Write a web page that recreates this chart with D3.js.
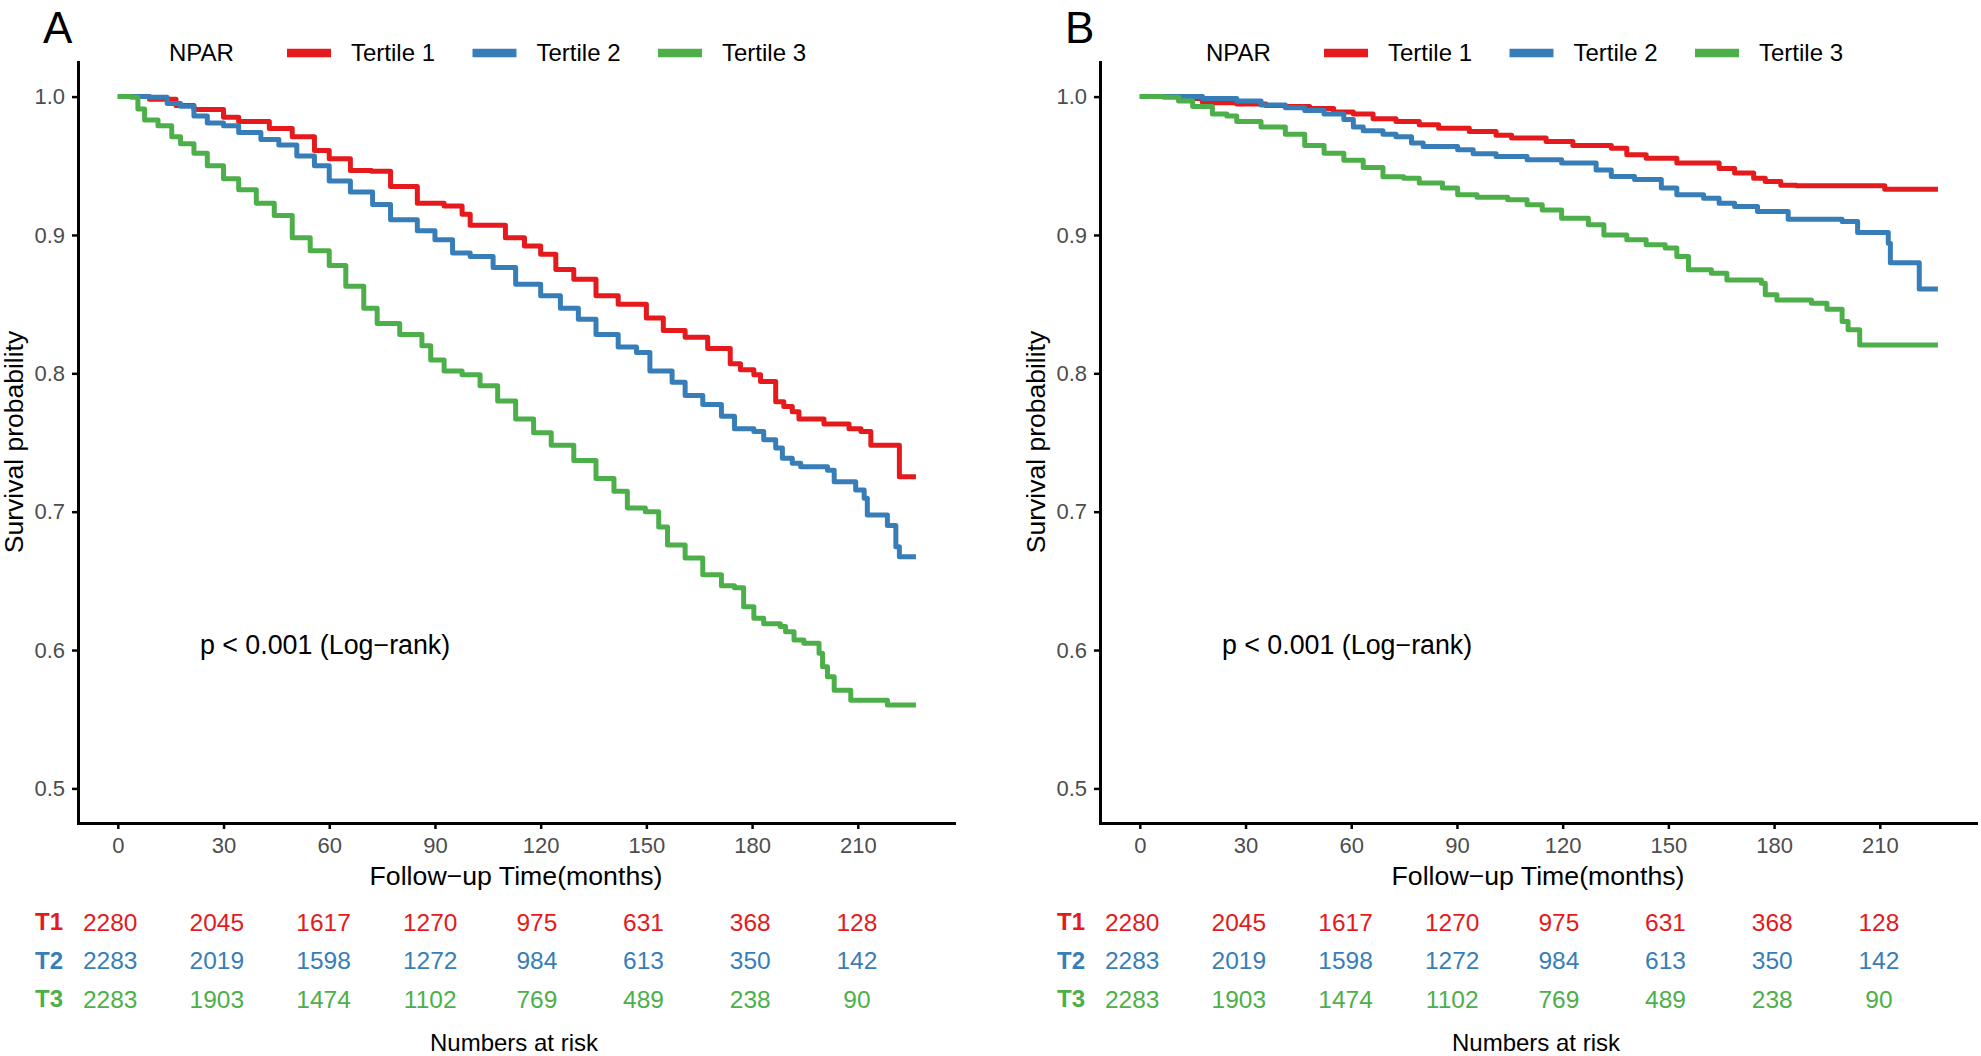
<!DOCTYPE html>
<html>
<head>
<meta charset="utf-8">
<script src="https://cdn.jsdelivr.net/npm/d3@7"></script>
<style>
body { margin: 0; background: #fff; }
svg { display: block; }
text { font-family: "Liberation Sans", Arial, Helvetica, sans-serif; }
</style>
</head>
<body>
<div id="canvas"></div>
<script>
// risk table
const times = [0, 30, 60, 90, 120, 150, 180, 210];
const strata = ['T1', 'T2', 'T3'];
const riskT1 = [2280, 2045, 1617, 1270, 975, 631, 368, 128];
const riskT2 = [2283, 2019, 1598, 1272, 984, 613, 350, 142];
const riskT3 = [2283, 1903, 1474, 1102, 769, 489, 238, 90];

const legendTitle = 'NPAR';
const legendLabels = ['Tertile 1', 'Tertile 2', 'Tertile 3'];
const colors = ['#E41A1C', '#377EB8', '#4DAF4A'];
const yTicks = [0.5, 0.6, 0.7, 0.8, 0.9, 1.0];

// KM curves: [months, survival]
const aT1 = [[0,1.0],[9,0.998],[16.5,0.9936],[21.6,0.9906],[30,0.985],[34.3,0.982],[43,0.977],[49.5,0.971],[55.8,0.961],[60,0.955],[66,0.9465],[72,0.946],[77.4,0.935],[85,0.923],[92.6,0.921],[97.7,0.915],[100,0.907],[110,0.898],[115.4,0.892],[120,0.886],[124.3,0.875],[129.4,0.868],[135.7,0.856],[142,0.850],[150,0.840],[154.8,0.831],[161,0.826],[167.4,0.818],[173.8,0.807],[176.7,0.8025],[180.5,0.799],[182.4,0.794],[186.7,0.7795],[189,0.776],[191.4,0.7723],[193.3,0.767],[200.4,0.7634],[207.5,0.760],[210.9,0.758],[213.7,0.748],[221.8,0.7253],[226.5,0.7253]];
const aT2 = [[0,1.0],[9,0.9995],[14,0.995],[17.8,0.993],[21.6,0.986],[25.4,0.981],[30,0.979],[34.3,0.974],[40.6,0.969],[45.7,0.965],[50.8,0.957],[55.8,0.950],[60,0.939],[66,0.931],[72.3,0.922],[77.4,0.911],[85,0.903],[90,0.8965],[95,0.887],[100,0.8845],[106.5,0.8765],[112.9,0.8644],[120,0.856],[125.6,0.847],[130.7,0.839],[135.7,0.828],[142,0.819],[147.2,0.815],[151,0.8016],[157.3,0.7936],[161,0.784],[166,0.7775],[171.3,0.769],[175,0.760],[180.5,0.758],[183.3,0.752],[186.7,0.746],[188.6,0.7386],[191.4,0.735],[193.8,0.7325],[201.4,0.730],[203.3,0.7217],[209.4,0.7157],[211.8,0.7097],[212.7,0.6976],[218.4,0.690],[220.8,0.6747],[221.8,0.6675],[226.5,0.6675]];
const aT3 = [[0,1.0],[3.8,0.9995],[5.7,0.991],[7.6,0.983],[11.4,0.979],[15.3,0.971],[17.8,0.966],[21.6,0.959],[25.4,0.950],[30,0.9406],[34.3,0.9326],[39.3,0.923],[44.4,0.914],[49.5,0.898],[54.6,0.8885],[60,0.878],[64.7,0.863],[69.8,0.847],[73.6,0.836],[80,0.828],[86.3,0.820],[88.8,0.8096],[92.6,0.8016],[97.7,0.799],[102.8,0.791],[107.8,0.780],[112.9,0.767],[118,0.757],[123,0.748],[129.4,0.737],[135.7,0.724],[140.8,0.7147],[144.6,0.7027],[149.7,0.700],[153.5,0.689],[156,0.676],[161,0.6666],[166,0.6545],[171.3,0.6465],[175,0.645],[177.6,0.6313],[180.5,0.623],[183.3,0.619],[188,0.617],[189.5,0.6132],[191.9,0.6072],[194.7,0.605],[199,0.5976],[200,0.588],[201.4,0.5807],[203.3,0.571],[208,0.5638],[218.4,0.5602],[226.5,0.5602]];

const bT1 = [[0,1.0],[11,0.9987],[17.8,0.9955],[27.5,0.9947],[35.8,0.9936],[41.3,0.9928],[48.2,0.9914],[55,0.9888],[60.6,0.9874],[66.2,0.984],[72.7,0.982],[79.3,0.9796],[84.8,0.9772],[93.5,0.9748],[101.1,0.972],[105.5,0.970],[115.3,0.9675],[122.9,0.9646],[133.8,0.9627],[138.2,0.958],[143.7,0.9555],[152.4,0.952],[164.4,0.948],[168.8,0.9447],[174.2,0.941],[177.5,0.9386],[181.9,0.936],[186.3,0.9355],[211.4,0.933],[226.5,0.933]];
const bT2 = [[0,1.0],[17.8,0.9987],[27.5,0.9968],[34.4,0.994],[41.3,0.992],[46.8,0.990],[52.3,0.9874],[57.9,0.9834],[60.6,0.978],[63.4,0.9754],[69,0.9727],[72.7,0.971],[77.1,0.9664],[80.4,0.964],[90.2,0.9615],[94.6,0.9586],[101.1,0.9567],[109.9,0.9543],[119.7,0.952],[129.5,0.947],[133.8,0.9422],[140.4,0.940],[148,0.934],[152.4,0.929],[160,0.9266],[164.4,0.923],[168.8,0.9205],[175.3,0.917],[184,0.9114],[199.3,0.9097],[203.7,0.9017],[212.4,0.894],[213,0.880],[221.2,0.861],[226.5,0.861]];
const bT3 = [[0,1.0],[6.8,0.9995],[11,0.9968],[15,0.9928],[20.6,0.9874],[24.7,0.986],[27.5,0.982],[34.4,0.978],[41.3,0.9727],[46.8,0.9647],[52.3,0.959],[57.9,0.954],[63.4,0.9487],[69,0.942],[74.9,0.941],[79.3,0.9375],[85.9,0.934],[90.2,0.929],[95.7,0.9273],[104.4,0.9254],[109.9,0.9218],[114.2,0.9181],[119.7,0.9121],[127.3,0.9073],[131.7,0.900],[138.2,0.8965],[143.7,0.893],[149.1,0.8905],[152.4,0.8844],[155.7,0.8748],[162.2,0.8724],[166.6,0.8675],[176.4,0.8651],[177.5,0.8567],[180.8,0.853],[190.6,0.8507],[195,0.8463],[199.3,0.8374],[201,0.8314],[204.3,0.8205],[226.5,0.8205]];

const W = 1981, H = 1056;
const svg = d3.select('#canvas').append('svg')
    .attr('width', W)
    .attr('height', H);

const panels = [
    { letter: 'A', dx: 0, legendX: 169, curves: [aT1, aT2, aT3] },
    { letter: 'B', dx: 1022, legendX: 1206, curves: [bT1, bT2, bT3] }
];
const risk = [riskT1, riskT2, riskT3];

// ggplot-style 5% expansion of [0, 226] and [0.5, 1]
const x = d3.scaleLinear().domain([-11.3, 237.3]).range([78, 954]);
const xr = d3.scaleLinear().domain([-11.3, 237.3]).range([70, 954]);
const y = d3.scaleLinear().domain([0.475, 1.025]).range([823, 62]);
const rowY = d3.scalePoint().domain(strata).range([922, 999]);

const line = d3.line()
    .x(d => x(d[0]))
    .y(d => y(d[1]))
    .curve(d3.curveStepAfter);

panels.forEach(p => {
    const g = svg.append('g').attr('transform', `translate(${p.dx},0)`);

    g.append('text')
        .attr('x', 43).attr('y', 43)
        .attr('font-size', 44)
        .text(p.letter);

    // legend
    const lg = svg.append('g').attr('transform', `translate(${p.legendX},53)`);
    lg.append('text')
        .attr('x', 0).attr('dy', '0.35em')
        .attr('font-size', 24)
        .text(legendTitle);
    legendLabels.forEach((l, i) => {
        const kx = 118 + i * 185.5;
        lg.append('line')
            .attr('x1', kx).attr('x2', kx + 44)
            .attr('y1', 0).attr('y2', 0)
            .attr('stroke', colors[i])
            .attr('stroke-width', 8.5);
        lg.append('text')
            .attr('x', kx + 64).attr('dy', '0.35em')
            .attr('font-size', 24)
            .text(l);
    });

    // curves
    p.curves.forEach((c, i) => {
        g.append('path')
            .datum(c)
            .attr('d', line)
            .attr('fill', 'none')
            .attr('stroke', colors[i])
            .attr('stroke-width', 5)
            .attr('stroke-linejoin', 'round');
    });

    // axes
    const xAxis = g.append('g')
        .attr('transform', 'translate(0,823)')
        .call(d3.axisBottom(x).tickValues(times).tickSize(6).tickSizeOuter(0).tickPadding(8));
    const yAxis = g.append('g')
        .attr('transform', 'translate(78,0)')
        .call(d3.axisLeft(y).tickValues(yTicks).tickFormat(d3.format('.1f')).tickSize(6).tickSizeOuter(0).tickPadding(7));
    [xAxis, yAxis].forEach(a => {
        a.attr('font-family', null);
        a.select('.domain').attr('stroke', '#000').attr('stroke-width', 3).attr('stroke-linecap', 'square');
        a.selectAll('.tick line').attr('stroke', '#000').attr('stroke-width', 2.5);
        a.selectAll('.tick text').attr('font-size', 22).attr('fill', '#4D4D4D');
    });

    g.append('text')
        .attr('x', 516).attr('y', 876).attr('dy', '0.35em')
        .attr('text-anchor', 'middle')
        .attr('font-size', 26.7)
        .text('Follow\u2212up Time(months)');

    g.append('text')
        .attr('transform', `translate(14,442)rotate(-90)`)
        .attr('dy', '0.35em')
        .attr('text-anchor', 'middle')
        .attr('font-size', 26.5)
        .text('Survival probability');

    g.append('text')
        .attr('x', x(23.3)).attr('y', y(0.6036)).attr('dy', '0.35em')
        .attr('font-size', 26.8)
        .text('p < 0.001 (Log\u2212rank)');

    // numbers at risk
    strata.forEach((s, i) => {
        g.append('text')
            .attr('x', 63).attr('y', rowY(s)).attr('dy', '0.35em')
            .attr('text-anchor', 'end')
            .attr('font-size', 24)
            .attr('font-weight', 'bold')
            .attr('fill', colors[i])
            .text(s);
        g.selectAll(null)
            .data(risk[i])
            .enter()
            .append('text')
            .attr('x', (d, j) => xr(times[j]))
            .attr('y', rowY(s)).attr('dy', '0.35em')
            .attr('text-anchor', 'middle')
            .attr('font-size', 24.5)
            .attr('fill', colors[i])
            .text(d => d);
    });

    g.append('text')
        .attr('x', 514).attr('y', 1043).attr('dy', '0.35em')
        .attr('text-anchor', 'middle')
        .attr('font-size', 24)
        .text('Numbers at risk');
});
</script>
</body>
</html>
